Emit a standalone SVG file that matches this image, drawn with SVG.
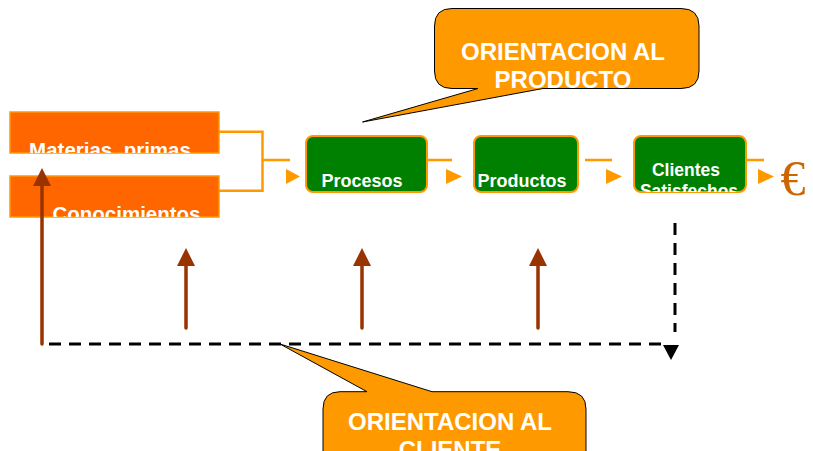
<svg xmlns="http://www.w3.org/2000/svg" width="813" height="451" viewBox="0 0 813 451">
<style>
.src{fill:#FF6600;stroke:#FF9900;stroke-width:1.5}
.step{fill:#008000;stroke:#FF9900;stroke-width:2}
.lbl{font-family:"Liberation Sans",Arial,sans-serif;font-weight:bold;fill:#FFFFFF;text-anchor:middle}
.call{fill:#FF9900;stroke:#000000;stroke-width:1}
.flow{fill:none;stroke:#FF9900;stroke-width:2.5}
.tri{fill:#FF9900}
.brown{stroke:#993300;stroke-width:3.5;stroke-linecap:round;fill:none}
.dash{stroke:#000000;stroke-width:3;stroke-dasharray:12 8;fill:none}
</style>
<defs>
<clipPath id="cMat"><rect x="10" y="112" width="209" height="41"/></clipPath>
<clipPath id="cCon"><rect x="10" y="176" width="209" height="41"/></clipPath>
<clipPath id="cCli"><rect x="634" y="136" width="112" height="56"/></clipPath>
<clipPath id="cTop"><rect x="434" y="8" width="265" height="80"/></clipPath>
</defs>

<g id="materias">
<rect class="src" x="10" y="112" width="209" height="41"/>
<text class="lbl" x="110" y="157" font-size="20.5" clip-path="url(#cMat)" xml:space="preserve">Materias  primas</text>
</g>
<g id="conocimientos">
<rect class="src" x="10" y="176" width="209" height="41"/>
<text class="lbl" x="126.5" y="221" font-size="20.5" clip-path="url(#cCon)">Conocimientos</text>
</g>
<g id="procesos">
<rect class="step" x="306" y="136" width="121" height="56" rx="7"/>
<text class="lbl" x="362" y="187" font-size="18">Procesos</text>
</g>
<g id="productos">
<rect class="step" x="474" y="136" width="104" height="56" rx="7"/>
<text class="lbl" x="522" y="187" font-size="18">Productos</text>
</g>
<g id="clientes">
<rect class="step" x="634" y="136" width="112" height="56" rx="7"/>
<g clip-path="url(#cCli)">
<text class="lbl" x="686" y="176" font-size="17.5">Clientes</text>
<text class="lbl" x="689" y="197" font-size="17.5">Satisfechos</text>
</g>
</g>
<g id="euro">
<text x="793" y="195" font-family="Liberation Serif,'Times New Roman',serif" font-size="50" fill="#CC6600" text-anchor="middle">€</text>
</g>

<g id="connectors">
<path class="flow" d="M219,131.7 H262.5 V190.7 H219 M262.5,160 H290"/>
<path class="tri" d="M286,169 L300,176.5 L286,184 Z"/>
<path class="flow" d="M427,160 H452"/>
<path class="tri" d="M446,169 L462,176.5 L446,184 Z"/>
<path class="flow" d="M585,160 H612"/>
<path class="tri" d="M606,169 L622,176.5 L606,184 Z"/>
<path class="flow" d="M746,160 H764"/>
<path class="tri" d="M758,169 L774,176.5 L758,184 Z"/>

<line class="brown" x1="42" y1="344" x2="42" y2="185"/>
<path d="M42,168 L51,186 L33,186 Z" fill="#993300"/>
<line class="brown" x1="186" y1="328" x2="186" y2="265"/>
<path d="M186,248 L195,266 L177,266 Z" fill="#993300"/>
<line class="brown" x1="362" y1="328" x2="362" y2="265"/>
<path d="M362,248 L371,266 L353,266 Z" fill="#993300"/>
<line class="brown" x1="538" y1="328" x2="538" y2="265"/>
<path d="M538,248 L547,266 L529,266 Z" fill="#993300"/>

<line class="dash" x1="49" y1="344" x2="662" y2="344"/>
<line class="dash" x1="675" y1="223" x2="675" y2="332"/>
<path d="M663,345 L679,345 L671,360 Z" fill="#000000"/>
</g>

<g id="callout-producto">
<path class="call" d="M452,8.5 H681 Q699,8.5 699,26 V71 Q699,88.5 681,88.5 H543 L362.5,122 L478,88.5 H452 Q434.5,88.5 434.5,71 V26 Q434.5,8.5 452,8.5 Z"/>
<g clip-path="url(#cTop)">
<text class="lbl" x="563" y="60" font-size="24">ORIENTACION AL</text>
<text class="lbl" x="563" y="88" font-size="24">PRODUCTO</text>
</g>
</g>
<g id="callout-cliente">
<path class="call" d="M340,391.7 H367 L280,344 L432,391.7 H568 Q586,391.7 586,409 V470 H323 V409 Q323,391.7 340,391.7 Z"/>
<text class="lbl" x="450" y="430" font-size="24">ORIENTACION AL</text>
<text class="lbl" x="450" y="458" font-size="24">CLIENTE</text>
</g>
</svg>
